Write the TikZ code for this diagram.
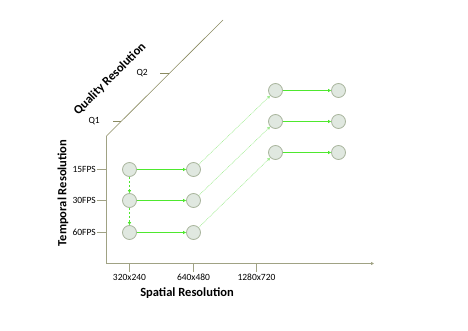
\documentclass[tikz,border=0pt]{standalone}
\usepackage{fontspec}
\setmainfont{Carlito}
\usetikzlibrary{arrows.meta}
\definecolor{axisc}{HTML}{A0A284}
\definecolor{diagc}{HTML}{8A8A60}
\definecolor{grn}{HTML}{4EE82E}
\definecolor{lgrn}{HTML}{9CEB8C}
\definecolor{nodefill}{HTML}{E0E8E0}
\definecolor{nodedraw}{HTML}{A8B49C}
\tikzset{
  state/.style={circle,draw=nodedraw,fill=nodefill,line width=0.8pt,minimum size=14pt,inner sep=0pt},
  lbl/.style={font=\fontsize{9.5}{11}\selectfont,inner sep=0pt},
  ttl/.style={font=\bfseries\fontsize{12.5}{14}\selectfont,inner sep=0pt},
  axis/.style={draw=axisc,line width=0.8pt},
  hflow/.style={draw=grn,line width=1pt,-{Triangle[length=3pt,width=3pt]}},
  vflow/.style={draw=grn,line width=0.8pt,dash pattern=on 2pt off 2pt,-{Triangle[length=3pt,width=3pt]}},
  dflow/.style={draw=lgrn,line width=0.5pt,dash pattern=on 1pt off 0.7pt,-{Triangle[length=3pt,width=3pt]}},
}
\begin{document}
\begin{tikzpicture}[x=1pt,y=-1pt]
\useasboundingbox (0,0) rectangle (468,331);
% axes
\coordinate (O) at (106.5,263.5);
\coordinate (Vtop) at (106.5,136);
\coordinate (Dtop) at (223,20);
\coordinate (Hend) at (374,263.5);
\draw[axis] (Vtop) -- (O);
\draw[draw=diagc,line width=0.6pt] (Vtop) -- (Dtop);
\draw[axis,-{Triangle[length=3pt,width=3pt]}] (O) -- (Hend);
% vertical ticks
\foreach \y/\t in {169.5/15FPS,200.5/30FPS,232.5/60FPS}{
  \draw[axis] (97,\y) -- (106.5,\y);
  \node[lbl,anchor=east] at (96,\y) {\t};
}
% x ticks
\foreach \x/\t in {129.5/320x240,193.5/640x480,256.5/1280x720}{
  \draw[axis] (\x,263.5) -- (\x,272);
  \node[lbl,anchor=north] at (\x,274) {\t};
}
% Q ticks
\draw[draw=diagc,line width=0.6pt] (113,121.5) -- (121,121.5);
\node[lbl,anchor=east] at (100,121) {Q1};
\draw[draw=diagc,line width=0.6pt] (160,73.5) -- (169,73.5);
\node[lbl,anchor=east] at (148,73) {Q2};
% titles
\node[ttl] at (187,293) {Spatial Resolution};
\node[ttl,rotate=90] at (63,193) {Temporal Resolution};
\node[ttl,rotate=45] at (110,79) {Quality Resolution};
% nodes
\node[state] (a1) at (129.5,169.5) {};
\node[state] (a2) at (129.5,200.5) {};
\node[state] (a3) at (129.5,232.5) {};
\node[state] (b1) at (193.5,169.5) {};
\node[state] (b2) at (193.5,200.5) {};
\node[state] (b3) at (193.5,232.5) {};
\node[state] (c1) at (275.5,90.5) {};
\node[state] (c2) at (275.5,121.5) {};
\node[state] (c3) at (275.5,152.5) {};
\node[state] (d1) at (338.5,90.5) {};
\node[state] (d2) at (338.5,121.5) {};
\node[state] (d3) at (338.5,152.5) {};
% connectors
\foreach \r in {1,2,3}{
  \draw[hflow] (a\r) -- (b\r);
  \draw[hflow] (c\r) -- (d\r);
  \draw[dflow] (b\r) -- (c\r);
}
\draw[vflow] (a1) -- (a2);
\draw[vflow] (a2) -- (a3);
\end{tikzpicture}
\end{document}
